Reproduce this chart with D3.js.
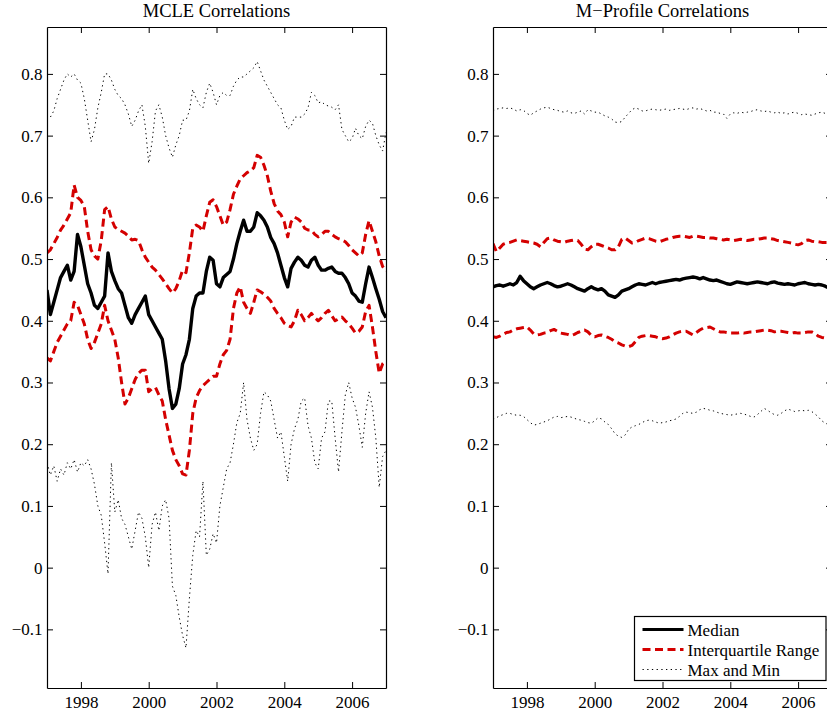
<!DOCTYPE html>
<html><head><meta charset="utf-8">
<script src="https://cdn.jsdelivr.net/npm/d3@7"></script>
<style>
body{margin:0;background:#fff;}
svg{display:block;background:#fff;}
text{font-family:"Liberation Serif","Times New Roman",serif;fill:#000;}
</style>
</head><body>
<svg id="c" width="827" height="717"></svg>
<script>
// ---------- data ----------
const years=[1997.0,1997.1,1997.2,1997.3,1997.4,1997.5,1997.6,1997.7,1997.8,1997.9,
1998.0,1998.1,1998.2,1998.3,1998.4,1998.5,1998.6,1998.7,1998.8,1998.9,
1999.0,1999.1,1999.2,1999.3,1999.4,1999.5,1999.6,1999.7,1999.8,1999.9,
2000.0,2000.1,2000.2,2000.3,2000.4,2000.5,2000.6,2000.7,2000.8,2000.9,
2001.0,2001.1,2001.2,2001.3,2001.4,2001.5,2001.6,2001.7,2001.8,2001.9,
2002.0,2002.1,2002.2,2002.3,2002.4,2002.5,2002.6,2002.7,2002.8,2002.9,
2003.0,2003.1,2003.2,2003.3,2003.4,2003.5,2003.6,2003.7,2003.8,2003.9,
2004.0,2004.1,2004.2,2004.3,2004.4,2004.5,2004.6,2004.7,2004.8,2004.9,
2005.0,2005.1,2005.2,2005.3,2005.4,2005.5,2005.6,2005.7,2005.8,2005.9,
2006.0,2006.1,2006.2,2006.3,2006.4,2006.5,2006.6,2006.7,2006.8,2006.9,
2007.0];

// MCLE panel
const mcleMedian=[0.45,0.41,0.43,0.45,0.47,0.48,0.49,0.466,0.48,0.54,
0.52,0.49,0.46,0.445,0.425,0.42,0.43,0.44,0.51,0.48,
0.465,0.452,0.445,0.425,0.405,0.396,0.41,0.42,0.43,0.44,
0.41,0.40,0.39,0.38,0.37,0.335,0.29,0.258,0.265,0.29,
0.33,0.345,0.37,0.42,0.44,0.445,0.445,0.48,0.503,0.498,
0.46,0.455,0.47,0.475,0.48,0.50,0.525,0.545,0.563,0.545,
0.545,0.552,0.575,0.57,0.563,0.552,0.535,0.525,0.51,0.49,
0.47,0.455,0.485,0.495,0.503,0.498,0.49,0.487,0.498,0.503,
0.49,0.482,0.482,0.485,0.487,0.48,0.477,0.477,0.47,0.46,
0.445,0.44,0.432,0.43,0.46,0.487,0.47,0.452,0.435,0.415,
0.405];
const mcleUpper=[0.51,0.515,0.525,0.535,0.547,0.555,0.565,0.575,0.62,0.60,
0.595,0.585,0.545,0.515,0.505,0.50,0.53,0.58,0.585,0.565,
0.552,0.548,0.545,0.542,0.537,0.531,0.532,0.53,0.515,0.503,
0.495,0.487,0.482,0.475,0.468,0.46,0.452,0.445,0.452,0.465,
0.482,0.478,0.51,0.55,0.555,0.552,0.545,0.57,0.592,0.596,
0.585,0.57,0.555,0.56,0.58,0.605,0.618,0.63,0.635,0.64,
0.643,0.648,0.668,0.665,0.652,0.635,0.61,0.59,0.578,0.572,
0.56,0.536,0.56,0.568,0.565,0.56,0.55,0.547,0.547,0.54,
0.536,0.54,0.545,0.545,0.54,0.536,0.533,0.531,0.528,0.522,
0.515,0.51,0.505,0.51,0.54,0.562,0.545,0.528,0.505,0.488,
0.48];
const mcleLower=[0.34,0.335,0.35,0.365,0.375,0.385,0.395,0.40,0.43,0.425,
0.41,0.395,0.37,0.355,0.365,0.38,0.395,0.425,0.40,0.385,
0.37,0.34,0.30,0.265,0.275,0.29,0.305,0.315,0.32,0.32,
0.285,0.29,0.292,0.28,0.27,0.24,0.215,0.19,0.175,0.165,
0.152,0.15,0.19,0.25,0.275,0.287,0.295,0.30,0.305,0.31,
0.31,0.33,0.345,0.352,0.37,0.42,0.445,0.455,0.43,0.42,
0.412,0.43,0.45,0.447,0.443,0.438,0.432,0.42,0.412,0.405,
0.396,0.392,0.39,0.40,0.417,0.41,0.40,0.405,0.412,0.405,
0.40,0.405,0.412,0.417,0.408,0.40,0.403,0.406,0.40,0.395,
0.388,0.38,0.383,0.39,0.415,0.425,0.39,0.35,0.315,0.33,
0.335];
const mcleMax=[0.735,0.73,0.74,0.76,0.775,0.79,0.80,0.795,0.80,0.79,
0.785,0.76,0.725,0.69,0.71,0.745,0.77,0.80,0.80,0.79,
0.775,0.765,0.76,0.75,0.735,0.715,0.725,0.74,0.75,0.715,
0.655,0.69,0.74,0.75,0.73,0.70,0.68,0.665,0.685,0.70,
0.725,0.725,0.74,0.775,0.76,0.75,0.745,0.77,0.785,0.77,
0.75,0.765,0.77,0.765,0.765,0.78,0.79,0.795,0.795,0.80,
0.805,0.81,0.82,0.805,0.79,0.78,0.77,0.76,0.75,0.745,
0.725,0.71,0.715,0.73,0.73,0.73,0.735,0.745,0.77,0.765,
0.753,0.755,0.75,0.748,0.746,0.742,0.75,0.71,0.70,0.69,
0.695,0.712,0.70,0.695,0.715,0.725,0.72,0.70,0.685,0.675,
0.705];
const mcleMin=[0.17,0.15,0.165,0.14,0.16,0.15,0.17,0.16,0.175,0.155,
0.17,0.165,0.175,0.16,0.135,0.10,0.085,0.04,-0.01,0.17,
0.09,0.11,0.08,0.07,0.05,0.03,0.06,0.09,0.08,0.05,
0.0,0.07,0.09,0.06,0.10,0.11,0.08,-0.03,-0.045,-0.08,
-0.11,-0.13,-0.05,0.02,0.06,0.05,0.14,0.02,0.03,0.055,
0.04,0.10,0.13,0.16,0.17,0.20,0.235,0.25,0.30,0.24,
0.21,0.19,0.20,0.25,0.285,0.28,0.27,0.24,0.21,0.22,
0.18,0.14,0.20,0.225,0.24,0.27,0.275,0.23,0.21,0.17,
0.16,0.21,0.22,0.27,0.27,0.21,0.155,0.22,0.28,0.30,
0.275,0.26,0.23,0.195,0.25,0.285,0.26,0.21,0.13,0.18,
0.19];

// M-Profile panel
const mprofMedian=[0.455,0.457,0.458,0.456,0.458,0.46,0.458,0.462,0.472,0.465,
0.46,0.455,0.452,0.455,0.458,0.46,0.462,0.46,0.457,0.455,
0.456,0.458,0.46,0.458,0.455,0.452,0.45,0.448,0.452,0.455,
0.452,0.45,0.452,0.448,0.442,0.44,0.438,0.442,0.448,0.45,
0.452,0.455,0.458,0.46,0.459,0.458,0.46,0.462,0.46,0.462,
0.463,0.464,0.465,0.466,0.467,0.466,0.468,0.469,0.47,0.471,
0.47,0.468,0.47,0.468,0.466,0.465,0.466,0.464,0.462,0.46,
0.459,0.461,0.463,0.462,0.461,0.46,0.461,0.462,0.463,0.462,
0.461,0.46,0.462,0.463,0.461,0.46,0.459,0.46,0.459,0.458,
0.46,0.461,0.462,0.46,0.459,0.458,0.459,0.458,0.456,0.453,
0.452];
const mprofUpper=[0.525,0.512,0.518,0.524,0.526,0.527,0.529,0.531,0.53,0.529,
0.528,0.527,0.526,0.524,0.52,0.527,0.533,0.534,0.531,0.529,
0.528,0.527,0.529,0.53,0.531,0.53,0.524,0.516,0.515,0.52,
0.524,0.524,0.522,0.52,0.518,0.515,0.515,0.52,0.532,0.534,
0.53,0.526,0.527,0.53,0.532,0.534,0.533,0.531,0.529,0.528,
0.53,0.532,0.533,0.535,0.536,0.537,0.537,0.536,0.535,0.537,
0.537,0.536,0.535,0.535,0.534,0.534,0.533,0.532,0.531,0.532,
0.531,0.53,0.531,0.532,0.531,0.53,0.531,0.532,0.532,0.533,
0.534,0.534,0.533,0.532,0.53,0.529,0.528,0.527,0.526,0.524,
0.523,0.525,0.53,0.531,0.529,0.528,0.528,0.527,0.527,0.527,
0.527];
const mprofLower=[0.374,0.373,0.375,0.378,0.381,0.382,0.385,0.387,0.388,0.389,
0.39,0.385,0.379,0.377,0.378,0.38,0.381,0.384,0.386,0.383,
0.38,0.379,0.378,0.376,0.378,0.381,0.383,0.385,0.382,0.376,
0.374,0.376,0.377,0.375,0.373,0.37,0.366,0.364,0.361,0.359,
0.358,0.36,0.366,0.373,0.375,0.376,0.376,0.375,0.374,0.372,
0.371,0.372,0.374,0.377,0.38,0.382,0.383,0.383,0.38,0.377,
0.381,0.385,0.388,0.389,0.39,0.387,0.384,0.382,0.382,0.381,
0.38,0.38,0.38,0.381,0.38,0.381,0.382,0.382,0.383,0.384,
0.385,0.385,0.384,0.382,0.383,0.383,0.382,0.381,0.38,0.381,
0.38,0.38,0.381,0.382,0.382,0.379,0.375,0.373,0.372,0.371,
0.371];
const mprofMax=[0.74,0.743,0.744,0.745,0.744,0.745,0.743,0.74,0.742,0.741,
0.736,0.733,0.737,0.74,0.743,0.745,0.746,0.744,0.742,0.741,
0.739,0.738,0.74,0.737,0.736,0.738,0.74,0.735,0.742,0.74,
0.738,0.738,0.735,0.732,0.73,0.727,0.722,0.721,0.723,0.73,
0.736,0.742,0.745,0.743,0.74,0.74,0.742,0.743,0.742,0.741,
0.742,0.743,0.741,0.742,0.743,0.744,0.743,0.742,0.744,0.745,
0.743,0.744,0.742,0.74,0.741,0.738,0.738,0.736,0.735,0.728,
0.735,0.737,0.736,0.738,0.737,0.738,0.739,0.741,0.742,0.74,
0.739,0.74,0.738,0.737,0.738,0.736,0.737,0.735,0.737,0.738,
0.736,0.734,0.735,0.734,0.733,0.735,0.737,0.738,0.736,0.735,
0.735];
const mprofMin=[0.24,0.243,0.246,0.248,0.25,0.25,0.248,0.247,0.247,0.245,
0.24,0.235,0.231,0.232,0.234,0.236,0.238,0.241,0.244,0.245,
0.243,0.244,0.245,0.244,0.242,0.24,0.239,0.237,0.235,0.234,
0.238,0.243,0.241,0.236,0.232,0.225,0.217,0.213,0.211,0.215,
0.224,0.228,0.23,0.232,0.235,0.238,0.239,0.238,0.236,0.234,
0.235,0.236,0.238,0.239,0.241,0.245,0.25,0.252,0.251,0.25,
0.252,0.256,0.258,0.257,0.255,0.254,0.252,0.25,0.249,0.248,
0.247,0.248,0.249,0.25,0.249,0.247,0.245,0.244,0.248,0.253,
0.258,0.255,0.251,0.248,0.247,0.25,0.254,0.257,0.255,0.253,
0.254,0.255,0.254,0.255,0.253,0.249,0.244,0.238,0.234,0.232,
0.232];

const panelTitles=["MCLE Correlations","M\u2212Profile Correlations"];
const xDomain=[1997,2007];
const yDomain=[-0.195,0.876];
const xTicks=[1998,2000,2002,2004,2006];
const yTicks=[-0.1,0,0.1,0.2,0.3,0.4,0.5,0.6,0.7,0.8];
const legendLabels=["Median","Interquartile Range","Max and Min"];

// ---------- layout / style ----------
const RED="#d40000";
const styles={
  median:{stroke:"#000",width:3.4,dash:null},
  iqr:{stroke:RED,width:3,dash:"8,4.5"},
  ext:{stroke:"#000",width:1,dash:"1.3,3.4"}
};
const layout=[
  {left:47,top:27,width:339,height:661,series:[
    {v:mcleMax,s:"ext"},{v:mcleMin,s:"ext"},
    {v:mcleMedian,s:"median"},
    {v:mcleUpper,s:"iqr"},{v:mcleLower,s:"iqr"}]},
  {left:493,top:27,width:339,height:661,series:[
    {v:mprofMax,s:"ext"},{v:mprofMin,s:"ext"},
    {v:mprofMedian,s:"median"},
    {v:mprofUpper,s:"iqr"},{v:mprofLower,s:"iqr"}]}
];

const svg=d3.select("#c");
svg.append("rect").attr("width",827).attr("height",717).attr("fill","#fff");

const fmt=d=>d===0?"0":d.toFixed(1).replace("-","\u2212");

layout.forEach((p,pi)=>{
  const x=d3.scaleLinear().domain(xDomain).range([0,p.width]);
  const y=d3.scaleLinear().domain(yDomain).range([p.height,0]);
  const g=svg.append("g").attr("transform",`translate(${p.left},${p.top})`);
  const cid="clip"+pi;
  g.append("clipPath").attr("id",cid).append("rect")
    .attr("width",p.width).attr("height",p.height);

  const plot=g.append("g").attr("clip-path",`url(#${cid})`);
  const line=d3.line().x((d,i)=>x(years[i])).y(d=>y(d));
  p.series.forEach(sr=>{
    const st=styles[sr.s];
    plot.append("path").datum(sr.v)
      .attr("d",line).attr("fill","none")
      .attr("stroke",st.stroke).attr("stroke-width",st.width)
      .attr("stroke-dasharray",st.dash)
      .attr("stroke-linejoin","round");
  });

  const TS=6;
  const axB=d3.axisBottom(x).tickValues(xTicks).tickSizeInner(-TS).tickSizeOuter(0).tickPadding(7.5).tickFormat(d3.format("d"));
  const axT=d3.axisTop(x).tickValues(xTicks).tickSizeInner(-TS).tickSizeOuter(0).tickFormat("");
  const axL=d3.axisLeft(y).tickValues(yTicks).tickSizeInner(-TS).tickSizeOuter(0).tickPadding(4.5).tickFormat(fmt);
  const axR=d3.axisRight(y).tickValues(yTicks).tickSizeInner(-TS).tickSizeOuter(0).tickFormat("");

  const style=sel=>{
    sel.selectAll("path.domain").attr("stroke","#000").attr("stroke-width",1.2);
    sel.selectAll(".tick line").attr("stroke","#000").attr("stroke-width",1);
    sel.selectAll(".tick text").attr("font-family",'"Liberation Serif","Times New Roman",serif')
      .attr("font-size",17).attr("fill","#000");
  };
  g.append("g").attr("transform",`translate(0,${p.height})`).call(axB).call(style);
  g.append("g").call(axT).call(style);
  g.append("g").call(axL).call(style);
  g.append("g").attr("transform",`translate(${p.width},0)`).call(axR).call(style);

  g.append("text").attr("x",p.width/2).attr("y",-10.5)
    .attr("text-anchor","middle").attr("font-size",18.5)
    .text(panelTitles[pi]);

  if(pi===1){
    const lg=svg.append("g").attr("transform","translate(634.5,616.5)");
    lg.append("rect").attr("width",191.5).attr("height",64)
      .attr("fill","#fff").attr("stroke","#000").attr("stroke-width",1.2);
    const keys=["median","iqr","ext"];
    keys.forEach((k,i)=>{
      const st=styles[k];
      const yy=13+20*i;
      lg.append("line").attr("x1",8).attr("x2",49).attr("y1",yy).attr("y2",yy)
        .attr("stroke",st.stroke).attr("stroke-width",k==="median"?3:st.width)
        .attr("stroke-dasharray",st.dash);
      lg.append("text").attr("x",53).attr("y",yy+6)
        .attr("font-size",17).text(legendLabels[i]);
    });
  }
});
</script>
</body></html>
